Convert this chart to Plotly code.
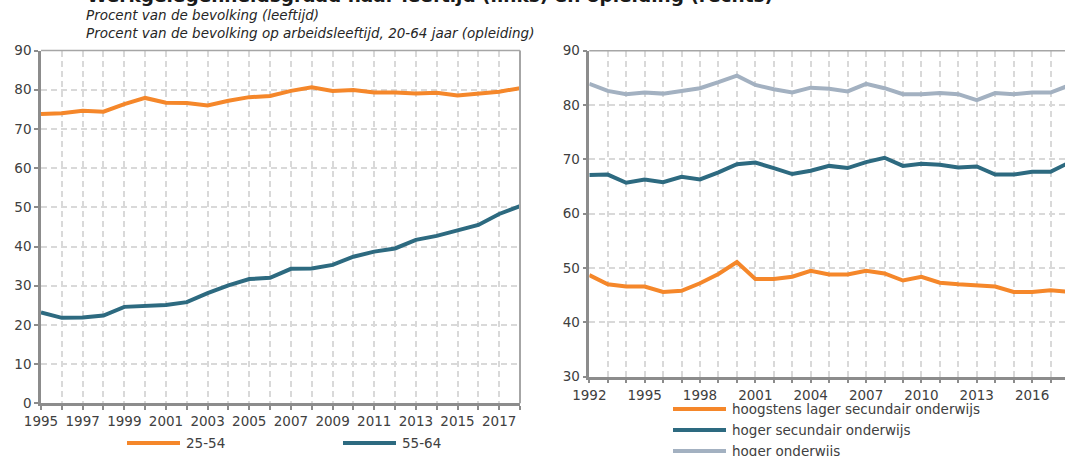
import plotly.graph_objects as go

# ---- data -------------------------------------------------------------
years_age = list(range(1995, 2019))
age_25_54 = [73.8, 74.0, 74.6, 74.4, 76.3, 77.9, 76.7, 76.6, 76.0, 77.2,
             78.1, 78.4, 79.7, 80.6, 79.7, 79.9, 79.3, 79.3, 79.0, 79.2,
             78.5, 79.1, 79.5, 80.4]
age_55_64 = [23.2, 21.8, 21.9, 22.4, 24.6, 24.8, 25.1, 25.8, 28.1, 30.1,
             31.7, 32.0, 34.3, 34.4, 35.3, 37.4, 38.7, 39.5, 41.7, 42.7,
             44.0, 45.5, 48.3, 50.3]

years_edu = list(range(1992, 2019))
edu_low = [48.7, 47.0, 46.6, 46.6, 45.6, 45.8, 47.2, 48.9, 51.1, 48.0,
           48.0, 48.4, 49.5, 48.8, 48.8, 49.5, 49.0, 47.7, 48.4, 47.3,
           47.0, 46.8, 46.6, 45.6, 45.6, 45.9, 45.6]
edu_mid = [67.1, 67.2, 65.7, 66.3, 65.8, 66.8, 66.3, 67.6, 69.1, 69.4,
           68.4, 67.3, 67.9, 68.8, 68.4, 69.5, 70.3, 68.8, 69.2, 69.0,
           68.5, 68.7, 67.2, 67.2, 67.7, 67.7, 69.4]
edu_high = [83.9, 82.6, 82.0, 82.3, 82.1, 82.6, 83.1, 84.2, 85.4, 83.7,
            82.9, 82.3, 83.2, 83.0, 82.5, 83.9, 83.1, 82.0, 82.0, 82.2,
            82.0, 80.9, 82.2, 82.0, 82.3, 82.3, 83.6]

age_names = ["25-54", "55-64"]
edu_names = ["hoogstens lager secundair onderwijs",
             "hoger secundair onderwijs",
             "hoger onderwijs"]

left_ticks = list(range(1995, 2018, 2))
right_ticks = list(range(1992, 2017, 3))

ORANGE = "#F5872A"
TEAL = "#2D6A80"
GREYBLUE = "#A3B1C1"

W, H = 1065, 456
FONT = "DejaVu Sans"
TXT = "#404040"


def px(x):
    return x / W


def py(y):
    return 1 - y / H


fig = go.Figure()

# left panel: by age
for name, vals, col in zip(age_names, [age_25_54, age_55_64], [ORANGE, TEAL]):
    fig.add_trace(go.Scatter(x=years_age, y=vals, name=name, mode="lines",
                             line=dict(color=col, width=4),
                             xaxis="x", yaxis="y", showlegend=False))

# right panel: by education
for name, vals, col in zip(edu_names, [edu_low, edu_mid, edu_high],
                           [ORANGE, TEAL, GREYBLUE]):
    fig.add_trace(go.Scatter(x=years_edu, y=vals, name=name, mode="lines",
                             line=dict(color=col, width=4),
                             xaxis="x2", yaxis="y2", showlegend=False))

grid = dict(showgrid=True, gridcolor="#D9D9D9", gridwidth=1.5, griddash="6px,4px")
axline = dict(showline=True, linecolor="#8C8C8C", linewidth=2.5,
              ticks="outside", ticklen=4, tickcolor="#8C8C8C", tickwidth=1.5,
              tickfont=dict(family=FONT, size=13.5, color=TXT), zeroline=False,
              automargin=False)
minor = dict(dtick=1, showgrid=True, gridcolor="#D9D9D9", gridwidth=1.5,
             griddash="6px,4px", ticks="outside", ticklen=4,
             tickcolor="#8C8C8C", tickwidth=1.5)

fig.update_layout(
    width=W, height=H,
    margin=dict(l=0, r=0, t=0, b=0),
    paper_bgcolor="white", plot_bgcolor="white",
    font=dict(family=FONT, color=TXT),
    xaxis=dict(domain=[px(41), px(520)], range=[1995, 2018],
               tickmode="array", tickvals=left_ticks, anchor="y",
               minor=minor, **grid, **axline),
    yaxis=dict(domain=[py(403.3), py(50.5)], range=[0, 90], dtick=10,
               anchor="x", **grid, **axline),
    xaxis2=dict(domain=[px(589.3), 1], range=[1992, 1992 + (W - 589.3) / 18.45],
                tickmode="array", tickvals=right_ticks, anchor="y2",
                minor=minor, **grid, **axline),
    yaxis2=dict(domain=[py(376.7), py(50.7)], range=[30, 90], dtick=10,
                anchor="x2", **grid, **axline),
)

shapes = []
# thin frame on the top/right edges of the panels
for xr, yr in [("x domain", "y domain"), ("x2 domain", "y2 domain")]:
    shapes.append(dict(type="line", xref=xr, yref=yr, x0=0, x1=1, y0=1, y1=1,
                       line=dict(color="#A6A6A6", width=1.5)))
shapes.append(dict(type="line", xref="x domain", yref="y domain", x0=1, x1=1,
                   y0=0, y1=1, line=dict(color="#A6A6A6", width=2)))

annotations = []
# legend: age panel (one row)
for name, col, x0 in zip(age_names, [ORANGE, TEAL], [127, 343]):
    shapes.append(dict(type="line", xref="paper", yref="paper",
                       x0=px(x0), x1=px(x0 + 53), y0=py(443), y1=py(443),
                       line=dict(color=col, width=4)))
    annotations.append(dict(text=name, xref="paper", yref="paper",
                            x=px(x0 + 57), y=py(443), xanchor="left",
                            yanchor="middle", showarrow=False,
                            font=dict(family=FONT, size=13.5, color=TXT)))
# legend: education panel (one column)
for name, col, yy in zip(edu_names, [ORANGE, TEAL, GREYBLUE], [409, 430, 451]):
    shapes.append(dict(type="line", xref="paper", yref="paper",
                       x0=px(673), x1=px(726), y0=py(yy), y1=py(yy),
                       line=dict(color=col, width=4)))
    annotations.append(dict(text=name, xref="paper", yref="paper",
                            x=px(730), y=py(yy), xanchor="left",
                            yanchor="middle", showarrow=False,
                            font=dict(family=FONT, size=13.5, color=TXT)))

# headings
annotations.append(dict(text="<b>Werkgelegenheidsgraad naar leeftijd (links) en opleiding (rechts)</b>",
                        xref="paper", yref="paper", x=px(85), y=1,
                        xanchor="left", yanchor="bottom", yshift=-8,
                        showarrow=False,
                        font=dict(family=FONT, size=18.5, color="#1A1A1A")))
annotations.append(dict(text="<i>Procent van de bevolking (leeftijd)</i>",
                        xref="paper", yref="paper", x=px(84), y=py(15),
                        xanchor="left", yanchor="middle", showarrow=False,
                        font=dict(family=FONT, size=13.5, color="#262626")))
annotations.append(dict(text="<i>Procent van de bevolking op arbeidsleeftijd, 20-64 jaar (opleiding)</i>",
                        xref="paper", yref="paper", x=px(84), y=py(33),
                        xanchor="left", yanchor="middle", showarrow=False,
                        font=dict(family=FONT, size=13.5, color="#262626")))

fig.update_layout(shapes=shapes, annotations=annotations)

fig.write_html("out.html")
